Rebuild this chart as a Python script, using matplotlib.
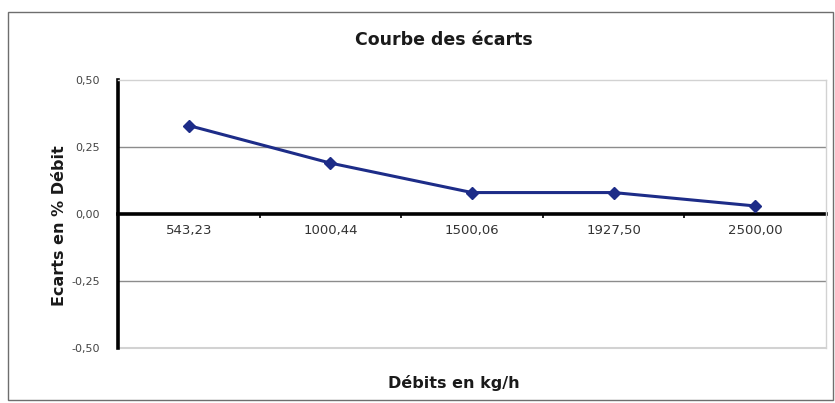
import matplotlib
matplotlib.use("Agg")
import matplotlib.pyplot as plt
from matplotlib.patches import Rectangle
from matplotlib.ticker import FixedLocator, FuncFormatter

# Flow rates (kg/h) and measured deviation (% of flow)
debits = [543.23, 1000.44, 1500.06, 1927.50, 2500.00]
ecarts = [0.33, 0.19, 0.08, 0.08, 0.03]
y_ticks = [-0.50, -0.25, 0.00, 0.25, 0.50]

def fr(v):
    return f"{v:.2f}".replace(".", ",")

plt.rcParams["font.family"] = ["DejaVu Sans"]

W, H = 835, 403
fig = plt.figure(figsize=(W / 100, H / 100), dpi=100)
fig.patch.set_facecolor("white")

# outer chart frame
fig.patches.append(Rectangle((8 / W, 3 / H), (W - 10) / W, (H - 15) / H,
                             transform=fig.transFigure, fill=False,
                             edgecolor="#6e6e6e", linewidth=1.0))

ax = fig.add_axes([118 / W, 1 - 348 / H, (826 - 118) / W, (348 - 80) / H])
x = list(range(len(debits)))

ax.set_xlim(-0.5, len(debits) - 0.5)
ax.set_ylim(y_ticks[0], y_ticks[-1])

# gridlines at +/-0.25 and light plot-area border
for v in (y_ticks[1], y_ticks[3]):
    ax.axhline(v, color="#8c8c8c", linewidth=1.0, zorder=1)
ax.axhline(y_ticks[0], color="#d2d2d2", linewidth=1.5, zorder=1, clip_on=False)

for side in ("top", "right"):
    ax.spines[side].set_color("#d2d2d2")
    ax.spines[side].set_linewidth(1.0)
ax.spines["left"].set_color("black")
ax.spines["left"].set_linewidth(2.6)
ax.spines["bottom"].set_position(("data", 0))
ax.spines["bottom"].set_color("black")
ax.spines["bottom"].set_linewidth(2.6)
ax.spines["bottom"].set_zorder(2)

ax.plot(x, ecarts, color="#1d2c88", linewidth=2.2, marker="D",
        markersize=6, markerfacecolor="#1d2c88", markeredgecolor="#1d2c88",
        zorder=4, clip_on=False)

ax.xaxis.set_major_locator(FixedLocator(x))
ax.set_xticklabels([fr(d) for d in debits])
ax.xaxis.set_minor_locator(FixedLocator([i + 0.5 for i in x[:-1]]))
ax.tick_params(axis="x", which="major", length=0, pad=7, labelsize=9.5,
               labelcolor="#333333")
ax.tick_params(axis="x", which="minor", length=3, width=1.2, color="black",
               direction="out")

ax.yaxis.set_major_locator(FixedLocator(y_ticks))
ax.yaxis.set_major_formatter(FuncFormatter(lambda v, p: fr(v)))
ax.tick_params(axis="y", length=0, pad=13, labelsize=8, labelcolor="#444444")

fig.text(0.531, 1 - 40 / H, "Courbe des écarts", ha="center", va="center",
         fontsize=12.5, fontweight="bold", color="#1a1a1a")
fig.text(0.543, 1 - 383 / H, "Débits en kg/h", ha="center", va="center",
         fontsize=11.5, fontweight="bold", color="#1a1a1a")
fig.text(60 / W, 1 - 226 / H, "Ecarts en % Débit", ha="center", va="center",
         rotation=90, fontsize=11.5, fontweight="bold", color="#1a1a1a")

fig.savefig("out.png", dpi=100)
